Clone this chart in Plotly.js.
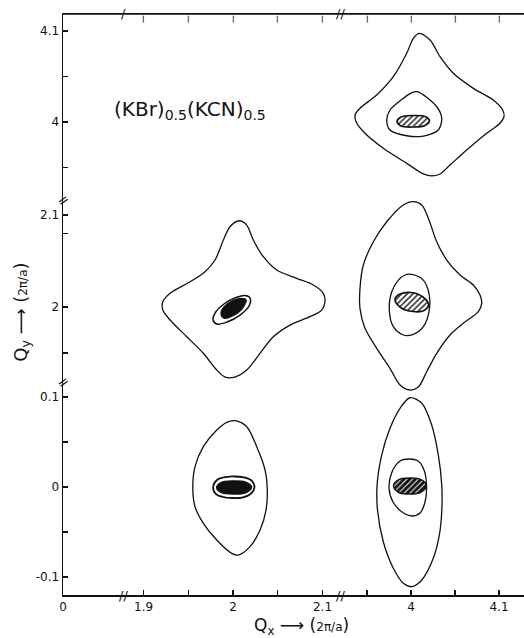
<!DOCTYPE html>
<html>
<head>
<meta charset="utf-8">
<script src="https://cdn.plot.ly/plotly-3.0.1.min.js"></script>
<style>html,body{margin:0;padding:0;background:#fff;}#chart{width:524px;height:638px;}</style>
</head>
<body>
<div id="chart"></div>
<script>
// ---- contour data (Qx, Qy in units of 2pi/a) ----
// (4,4) reflection
const q44OuterX = [4.0091,4.0216,4.0330,4.0481,4.0708,4.0935,4.1042,4.1057,4.1011,4.0860,4.0633,4.0443,4.0330,4.0235,4.0140,3.9951,3.9685,3.9477,3.9375,3.9364,3.9420,3.9610,3.9799,3.9951,4.0026];
const q44OuterY = [4.0975,4.0901,4.0718,4.0535,4.0370,4.0242,4.0132,4.0058,3.9986,3.9876,3.9692,3.9527,3.9429,3.9407,3.9429,3.9546,3.9711,3.9876,4.0003,4.0077,4.0151,4.0297,4.0498,4.0755,4.0920];
const q44InnerX = [4.0072,4.0292,4.0349,4.0310,4.0140,3.9951,3.9761,3.9724,3.9761,3.9913,4.0008];
const q44InnerY = [4.0333,4.0168,4.0041,3.9912,3.9846,3.9849,3.9912,4.0022,4.0132,4.0260,4.0322];
const q44CoreX = [3.9841,3.9886,4.0023,4.0159,4.0210,4.0159,4.0023,3.9886];
const q44CoreY = [4.0005,4.0055,4.0071,4.0060,4.0016,3.9962,3.9945,3.9956];
// (4,2) reflection
const q42OuterX = [4.0026,4.0122,4.0197,4.0292,4.0406,4.0557,4.0708,4.0784,4.0803,4.0765,4.0594,4.0443,4.0292,4.0178,4.0083,3.9989,3.9875,3.9761,3.9610,3.9477,3.9420,3.9420,3.9458,3.9572,3.9724,3.9913];
const q42OuterY = [2.1145,2.1109,2.0964,2.0710,2.0511,2.0348,2.0239,2.0130,2.0040,1.9949,1.9823,1.9696,1.9497,1.9297,1.9130,1.9098,1.9152,1.9334,1.9551,1.9768,1.9986,2.0203,2.0457,2.0710,2.0927,2.1109];
const q42InnerX = [4.0008,4.0140,4.0208,4.0208,4.0140,4.0026,3.9913,3.9799,3.9753,3.9781,3.9856,3.9932];
const q42InnerY = [2.0355,2.0293,2.0130,1.9967,1.9786,1.9703,1.9696,1.9786,1.9967,2.0166,2.0293,2.0348];
const q42CoreX = [3.9818,3.9875,4.0000,4.0136,4.0199,4.0148,4.0023,3.9875];
const q42CoreY = [2.0087,2.0141,2.0158,2.0109,2.0022,1.9962,1.9951,2.0000];
// (2,2) reflection
const q22OuterX = [2.0070,2.0153,2.0227,2.0339,2.0488,2.0712,2.0897,2.1009,2.1028,2.0991,2.0860,2.0637,2.0450,2.0302,2.0153,2.0022,1.9911,1.9818,1.9668,1.9483,1.9296,1.9215,1.9215,1.9296,1.9520,1.9687,1.9799,1.9892,1.9966];
const q22OuterY = [2.0938,2.0891,2.0728,2.0547,2.0402,2.0312,2.0239,2.0149,2.0058,1.9967,1.9895,1.9804,1.9677,1.9497,1.9315,1.9239,1.9239,1.9315,1.9497,1.9677,1.9859,1.9967,2.0058,2.0149,2.0275,2.0384,2.0511,2.0728,2.0873];
const q22InnerX = [2.0190,2.0134,2.0034,1.9899,1.9799,1.9777,1.9821,1.9933,2.0078,2.0179];
const q22InnerY = [2.0098,2.0125,2.0103,2.0033,1.9935,1.9859,1.9815,1.9837,1.9913,2.0011];
const q22CoreX = [2.0145,2.0089,1.9989,1.9899,1.9866,1.9899,1.9989,2.0089];
const q22CoreY = [2.0076,2.0092,2.0065,2.0000,1.9924,1.9880,1.9902,1.9967];
// (2,0) reflection
const q20OuterX = [2.0022,2.0153,2.0265,2.0358,2.0383,2.0369,2.0302,2.0190,2.0059,1.9985,1.9818,1.9668,1.9575,1.9550,1.9575,1.9668,1.9818,1.9930];
const q20OuterY = [0.0737,0.0670,0.0448,0.0189,-0.0033,-0.0256,-0.0478,-0.0663,-0.0756,-0.0737,-0.0589,-0.0403,-0.0219,0.0003,0.0226,0.0448,0.0633,0.0719];
const q20InnerX = [1.9777,1.9821,1.9922,2.0011,2.0123,2.0212,2.0240,2.0201,2.0101,2.0000,1.9888,1.9810];
const q20InnerY = [-0.0006,0.0078,0.0111,0.0117,0.0106,0.0067,0.0000,-0.0072,-0.0117,-0.0122,-0.0111,-0.0078];
const q20CoreX = [1.9816,1.9866,2.0000,2.0134,2.0207,2.0145,2.0000,1.9866];
const q20CoreY = [-0.0006,0.0050,0.0067,0.0056,0.0000,-0.0061,-0.0078,-0.0061];
// (4,0) reflection
const q40OuterX = [3.9989,4.0122,4.0235,4.0310,4.0349,4.0349,4.0322,4.0253,4.0122,4.0008,3.9913,3.9799,3.9685,3.9617,3.9617,3.9667,3.9761,3.9875];
const q40OuterY = [0.0992,0.0930,0.0689,0.0356,0.0022,-0.0274,-0.0533,-0.0792,-0.1033,-0.1108,-0.1070,-0.0903,-0.0608,-0.0237,0.0059,0.0356,0.0652,0.0874];
const q40InnerX = [3.9977,4.0080,4.0148,4.0176,4.0159,4.0102,4.0011,3.9898,3.9795,3.9750,3.9784,3.9875];
const q40InnerY = [0.0311,0.0289,0.0189,0.0022,-0.0167,-0.0289,-0.0322,-0.0278,-0.0167,-0.0011,0.0167,0.0289];
const q40CoreX = [3.9801,3.9852,3.9989,4.0114,4.0176,4.0114,3.9989,3.9852];
const q40CoreY = [0.0011,0.0078,0.0100,0.0083,0.0017,-0.0056,-0.0078,-0.0056];

// ---- axis ticks ----
const xTicksA = [0], xLabelsA = ['0'];
const xTicksB = [1.9, 1.95, 2, 2.05, 2.1], xLabelsB = ['1.9', '', '2', '', '2.1'];
const xTicksC = [3.95, 4, 4.05, 4.1], xLabelsC = ['', '4', '', '4.1'];
const yTicksA = [-0.1, -0.05, 0, 0.05, 0.1], yLabelsA = ['-0.1', '', '0', '', '0.1'];
const yTicksB = [1.95, 2, 2.08, 2.1], yLabelsB = ['', '2', '', '2.1'];
const yTicksC = [3.95, 4, 4.05, 4.1], yLabelsC = ['', '4', '', '4.1'];

const INK = '#111';
function loop(xs, ys, xa, ya, extra) {
  return Object.assign({
    type: 'scatter', mode: 'lines',
    x: xs.concat([xs[0]]), y: ys.concat([ys[0]]),
    xaxis: xa, yaxis: ya,
    line: { color: INK, width: 1.3, shape: 'spline', smoothing: 0.9 },
    hoverinfo: 'skip', showlegend: false
  }, extra || {});
}
// placeholder (no marks) so that the left frame segment gets its axis drawn
function frame(xa, ya) {
  return { type: 'scatter', mode: 'lines', x: [null], y: [null], xaxis: xa, yaxis: ya, hoverinfo: 'skip', showlegend: false };
}
const hatchWhite = { fill: 'toself', fillcolor: 'white', line: { color: INK, width: 1.6, shape: 'spline', smoothing: 1 },
  fillpattern: { shape: '/', bgcolor: 'white', fgcolor: INK, size: 4, solidity: 0.35 } };
const hatchBlack = { fill: 'toself', fillcolor: INK, line: { color: INK, width: 1.4, shape: 'spline', smoothing: 1 },
  fillpattern: { shape: '/', bgcolor: INK, fgcolor: 'white', size: 4, solidity: 0.25 } };
const solidBlack = { fill: 'toself', fillcolor: INK, line: { color: INK, width: 1.4, shape: 'spline', smoothing: 1 } };

const data = [
  frame('x', 'y'),
  loop(q44OuterX, q44OuterY, 'x3', 'y3'),
  loop(q44InnerX, q44InnerY, 'x3', 'y3'),
  loop(q44CoreX, q44CoreY, 'x3', 'y3', hatchWhite),
  loop(q42OuterX, q42OuterY, 'x3', 'y2'),
  loop(q42InnerX, q42InnerY, 'x3', 'y2'),
  loop(q42CoreX, q42CoreY, 'x3', 'y2', hatchWhite),
  loop(q22OuterX, q22OuterY, 'x2', 'y2'),
  loop(q22InnerX, q22InnerY, 'x2', 'y2', { line: { color: INK, width: 1.5, shape: 'spline', smoothing: 1 } }),
  loop(q22CoreX, q22CoreY, 'x2', 'y2', solidBlack),
  loop(q20OuterX, q20OuterY, 'x2', 'y'),
  loop(q20InnerX, q20InnerY, 'x2', 'y', { line: { color: INK, width: 1.8, shape: 'spline', smoothing: 1 } }),
  loop(q20CoreX, q20CoreY, 'x2', 'y', solidBlack),
  loop(q40OuterX, q40OuterY, 'x3', 'y'),
  loop(q40InnerX, q40InnerY, 'x3', 'y'),
  loop(q40CoreX, q40CoreY, 'x3', 'y', hatchBlack)
];

const FONT = 'DejaVu Sans, Liberation Sans, sans-serif';
function ax(o) {
  return Object.assign({
    showgrid: false, zeroline: false, showline: true, linecolor: INK, linewidth: 1.5,
    ticks: 'inside', ticklen: 5, tickwidth: 1.2, tickcolor: INK, tickmode: 'array',
    fixedrange: true, tickfont: { family: FONT, size: 12, color: INK }
  }, o);
}
const dA = [0, 0.1302], dB = [0.1302, 0.6009], dC = [0.6009, 1];
const rA = [0, 0.0674], rB = [1.877, 2.1196], rC = [3.9193, 4.1284];

function note(text, x, y, size, extra) {
  return Object.assign({ text: text, xref: 'paper', yref: 'paper', x: x, y: y, xanchor: 'center', yanchor: 'middle',
    showarrow: false, font: { family: FONT, size: size, color: INK } }, extra || {});
}
// inward tick on the top frame edge, at a tick value of the matching bottom axis
function topTick(xref, t) {
  return { text: '<b>|</b>', xref: xref, yref: 'paper', x: t, y: 0.9985, xanchor: 'center', yanchor: 'top',
    borderpad: 0, showarrow: false, font: { family: FONT, size: 7, color: '#000' } };
}

// top frame line
const shapes = [{ type: 'line', layer: 'above', xref: 'paper', yref: 'paper', x0: 0, x1: 1, y0: 0.9985, y1: 0.9985, line: { color: INK, width: 1.6 } }];

const annotations = [
  note('(KBr)<sub>0.5</sub>(KCN)<sub>0.5</sub>', 0.2755, 0.8333, 20),
  note('Q<sub>y</sub> ⟶ (<span style="font-size:12px">2π/a</span>)', -0.0896, 0.4863, 18, { textangle: -90 }),
  note('Q<sub>x</sub> ⟶ (<span style="font-size:12px">2π/a</span>)', 0.5184, -0.0533, 17),
  // axis break marks
  note('//', 0.1302, 0, 13),
  note('//', 0.6009, 0, 13),
  note('/', 0.1323, 0.999, 13),
  note('//', 0.6009, 0.999, 13),
  note('=', 0, 0.6787, 14, { textangle: -35 }),
  note('=', 0, 0.366, 14, { textangle: -35 })
];
xTicksB.forEach(t => annotations.push(topTick('x2', t)));
xTicksC.forEach(t => annotations.push(topTick('x3', t)));

const layout = {
  width: 524, height: 638,
  margin: { l: 63, r: 0, t: 13, b: 43, pad: 0 },
  paper_bgcolor: 'white', plot_bgcolor: 'rgba(0,0,0,0)',
  showlegend: false,
  font: { family: FONT, size: 12, color: INK },
  xaxis: ax({ domain: dA, range: rA, anchor: 'y', tickvals: xTicksA, ticktext: xLabelsA }),
  xaxis2: ax({ domain: dB, range: rB, anchor: 'y', tickvals: xTicksB, ticktext: xLabelsB }),
  xaxis3: ax({ domain: dC, range: rC, anchor: 'y', tickvals: xTicksC, ticktext: xLabelsC }),
  yaxis: ax({ domain: [0, 0.366], range: [-0.12, 0.1167], anchor: 'x', tickvals: yTicksA, ticktext: yLabelsA }),
  yaxis2: ax({ domain: [0.3436, 0.6838], range: [1.90435, 2.11957], anchor: 'x', tickvals: yTicksB, ticktext: yLabelsB }),
  yaxis3: ax({ domain: [0.6787, 1], range: [3.9143, 4.1198], anchor: 'x', tickvals: yTicksC, ticktext: yLabelsC }),
  shapes: shapes,
  annotations: annotations
};

Plotly.newPlot('chart', data, layout, { staticPlot: true, displayModeBar: false });
</script>
</body>
</html>
